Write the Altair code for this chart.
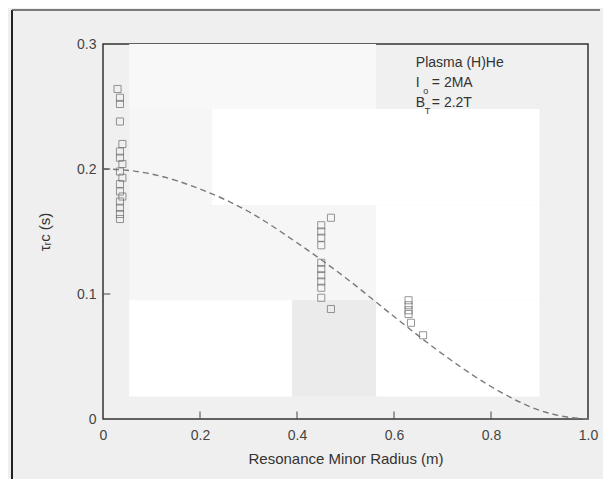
import altair as alt
import pandas as pd

# measured points (open squares)
pt_x = [0.03, 0.035, 0.035, 0.035, 0.04, 0.035, 0.035, 0.04, 0.035, 0.04, 0.035, 0.035, 0.04, 0.035, 0.035, 0.035, 0.035,
        0.47, 0.45, 0.45, 0.45, 0.45, 0.45, 0.45, 0.45, 0.45, 0.45, 0.45, 0.47,
        0.63, 0.63, 0.63, 0.63, 0.635, 0.66]
pt_y = [0.264, 0.257, 0.252, 0.238, 0.220, 0.214, 0.209, 0.204, 0.198, 0.193, 0.188, 0.182, 0.178, 0.174, 0.169, 0.164, 0.160,
        0.161, 0.155, 0.150, 0.145, 0.139, 0.125, 0.120, 0.115, 0.110, 0.105, 0.097, 0.088,
        0.095, 0.091, 0.087, 0.084, 0.077, 0.067]

# dashed model curve
cx = [0.0, 0.05, 0.1, 0.2, 0.3, 0.4, 0.5, 0.6, 0.7, 0.8, 0.9, 0.95, 1.0]
cy = [0.200, 0.199, 0.196, 0.184, 0.166, 0.141, 0.113, 0.082, 0.052, 0.026, 0.007, 0.002, 0.000]

# scan background patches (decorative)
bg_x = [0.054, 0.054, 0.225, 0.054, 0.563, 0.054, 0.39, 0.563]
bg_x2 = [0.563, 0.225, 0.90, 0.563, 0.90, 0.39, 0.563, 0.90]
bg_y = [0.248, 0.171, 0.171, 0.095, 0.095, 0.018, 0.018, 0.018]
bg_y2 = [0.300, 0.248, 0.248, 0.171, 0.171, 0.095, 0.095, 0.095]
bg_c = ["#f8f8f8", "#f6f6f6", "#ffffff", "#f6f6f6", "#ffffff", "#ffffff", "#ebebeb", "#ffffff"]

xticks = [0.2, 0.4, 0.6, 0.8]
yticks = [0.1, 0.2]

pts = pd.DataFrame({"r": pt_x, "t": pt_y})
curve = pd.DataFrame({"r": cx, "t": cy})
bg = pd.DataFrame({"x": bg_x, "x2": bg_x2, "y": bg_y, "y2": bg_y2, "c": bg_c})

lab = "datum.value == 0 ? '0' : format(datum.value, '.1f')"
xs = alt.Scale(domain=[0, 1.0], nice=False)
ys = alt.Scale(domain=[0, 0.3], nice=False)
X = alt.X("r:Q", scale=xs, axis=alt.Axis(title="Resonance Minor Radius (m)", values=[0, 0.2, 0.4, 0.6, 0.8, 1.0],
                                          labelExpr=lab, grid=False, domain=False, ticks=False,
                                          labelFlush=False, labelPadding=9, titlePadding=9))
Y = alt.Y("t:Q", scale=ys, axis=alt.Axis(title="τᵣc (s)", values=[0, 0.1, 0.2, 0.3], labelExpr=lab,
                                         grid=False, domain=False, ticks=False, labelFlush=False,
                                         labelPadding=7, titlePadding=24))

back = alt.Chart(bg).mark_rect().encode(
    x=alt.X("x:Q", scale=xs), x2="x2", y=alt.Y("y:Q", scale=ys), y2="y2",
    color=alt.Color("c:N", scale=None))

line = alt.Chart(curve).mark_line(color="#7a7a7a", strokeDash=[6, 4], strokeWidth=1.4,
                                  interpolate="monotone").encode(x=X, y=Y)

squares = alt.Chart(pts).mark_point(shape="square", filled=False, color="#6a6a6a",
                                    size=50, strokeWidth=1).encode(x="r:Q", y="t:Q")

xt = alt.Chart(pd.DataFrame({"r": xticks})).mark_rule(color="#444", strokeWidth=1).encode(
    x="r:Q", y=alt.datum(0), y2=alt.datum(0.006))
yt = alt.Chart(pd.DataFrame({"t": yticks})).mark_rule(color="#444", strokeWidth=1).encode(
    y="t:Q", x=alt.datum(0), x2=alt.datum(0.015))

ann_x = [0.645, 0.645, 0.645, 0.6605, 0.6635, 0.678, 0.678]
ann_y = [0.285, 0.269, 0.253, 0.2625, 0.2465, 0.269, 0.253]
ann_t = ["Plasma (H)He", "I", "B", "o", "T", "= 2MA", "= 2.2T"]
ann_s = [14, 14, 14, 9, 9, 14, 14]
ann = pd.DataFrame({"x": ann_x, "y": ann_y, "t": ann_t, "s": ann_s})
text = alt.Chart(ann).mark_text(align="left", baseline="middle", font="Liberation Sans", color="#333").encode(
    x="x:Q", y="y:Q", text="t:N", size=alt.Size("s:Q", scale=None))

frame_l = alt.Chart(pd.DataFrame({"a": [1]})).mark_rule(color="#222", strokeWidth=2).encode(
    x=alt.value(-91), y=alt.value(-34), y2=alt.value(443))
frame_t = alt.Chart(pd.DataFrame({"a": [1]})).mark_rule(color="#555", strokeWidth=1.5).encode(
    x=alt.value(-91), x2=alt.value(497), y=alt.value(-34))

chart = alt.layer(back, line, squares, xt, yt, text, frame_l, frame_t).properties(
    width=485, height=375, background="#efefef",
    padding={"left": 95, "top": 36, "right": 15, "bottom": 60},
    autosize=alt.AutoSizeParams(type="none"),
).configure_view(fill="#f0f0f0", stroke="#333", strokeWidth=1.5).configure_axis(
    labelFont="Liberation Sans", titleFont="Liberation Sans", labelFontSize=14, titleFontSize=15,
    labelColor="#444", titleColor="#333", titleFontWeight="normal")

chart.save("out.html", embed_options={"renderer": "svg", "actions": False})
